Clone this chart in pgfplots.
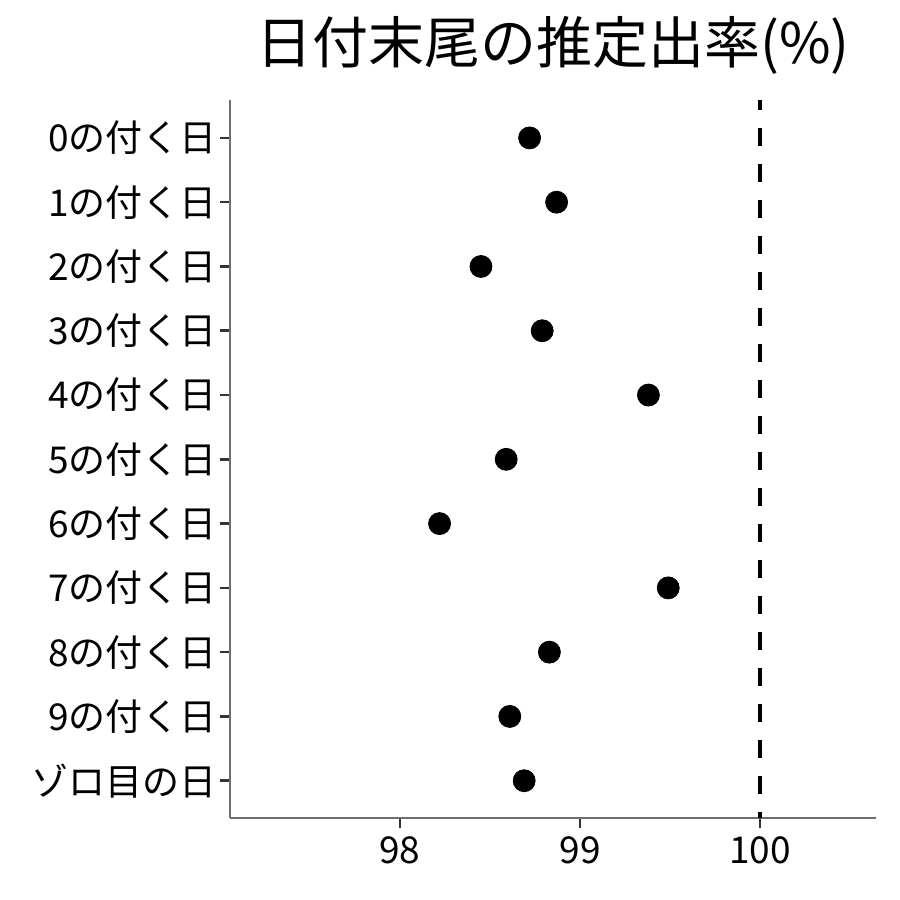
\documentclass[border=0pt]{standalone}
\usepackage{fontspec}
\setmainfont{Noto Sans CJK JP}
\usepackage{pgfplots}
\pgfplotsset{compat=1.18}
\definecolor{axisgray}{RGB}{110,110,110}
\definecolor{tickgray}{RGB}{51,51,51}

\begin{document}
\begin{tikzpicture}[x=0.5pt,y=0.5pt]
\useasboundingbox (0,0) rectangle (900,900);
\begin{axis}[
  at={(115pt,41pt)}, anchor=south west,
  scale only axis,
  width=323pt, height=359pt,
  xmin=97.056, xmax=100.644,
  ymin=-0.58, ymax=10.59,
  xtick={98,99,100},
  ytick={0,1,2,3,4,5,6,7,8,9,10},
  yticklabels={ゾロ目の日,9の付く日,8の付く日,7の付く日,6の付く日,5の付く日,4の付く日,3の付く日,2の付く日,1の付く日,0の付く日},
  axis x line*=bottom, axis y line*=left,
  axis line style={axisgray, line width=0.75pt, -},
  tick style={tickgray, line width=1.3pt},
  tick align=outside,
  major tick length=5pt,
  ticklabel style={font=\fontsize{18.5}{20}\selectfont, text=black},
  xticklabel style={yshift=-1pt},
  yticklabel style={xshift=2pt},
  /pgf/number format/assume math mode=true,
  clip=false,
]
\addplot[black, line width=2pt, dash pattern=on 9pt off 9pt, dash phase=4pt] coordinates {(100,10.59) (100,-0.58)};
\addplot[only marks, mark=*, mark size=5.5pt, black] coordinates {
  (98.72,10)
  (98.87,9)
  (98.45,8)
  (98.79,7)
  (99.38,6)
  (98.59,5)
  (98.22,4)
  (99.49,3)
  (98.83,2)
  (98.61,1)
  (98.69,0)
};
\end{axis}
\node[anchor=center, font=\fontsize{28}{32}\selectfont] at (553,855) {日付末尾の推定出率(\%)};
\end{tikzpicture}
\end{document}
